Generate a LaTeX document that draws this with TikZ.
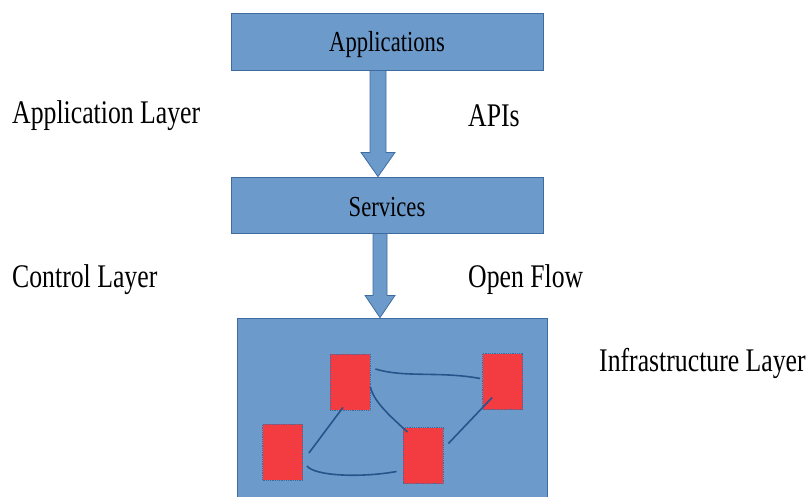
\documentclass[tikz,border=0pt]{standalone}
\usepackage{fontspec}
\usetikzlibrary{calc}
\newfontfamily\labelfont[FakeStretch=0.78]{Liberation Serif}
\definecolor{layerfill}{RGB}{108,155,203}
\definecolor{layeredge}{RGB}{62,108,160}
\definecolor{switchfill}{RGB}{243,60,66}
\definecolor{linkblue}{RGB}{40,84,140}
\tikzset{
  layerbox/.style={draw=layeredge, line width=0.8pt, fill=layerfill, inner sep=0pt},
  switchbox/.style={draw=layeredge, densely dotted, line width=0.8pt, fill=switchfill,
    minimum width=40pt, minimum height=56pt, inner sep=0pt},
  blockarrow/.style={draw=layeredge, line width=0.8pt, fill=layerfill, line join=miter},
  link/.style={draw=linkblue, line width=1.6pt},
  sidelabel/.style={font=\labelfont\fontsize{33}{36}\selectfont, inner sep=0pt},
  boxlabel/.style={font=\labelfont\fontsize{29}{32}\selectfont, inner sep=0pt}
}
\begin{document}
\begin{tikzpicture}[x=1pt,y=-1pt]
\useasboundingbox (0,0) rectangle (809,496);
\clip (0,0) rectangle (809,496);

% layer boxes
\node[layerbox, minimum width=312pt, minimum height=57pt] (app) at (387,41.5) {};
\node[layerbox, minimum width=312pt, minimum height=56pt] (svc) at (387,205) {};
\node[layerbox, minimum width=310pt, minimum height=190pt] (infra) at (392,413) {};

\node[boxlabel] (apptxt) at ($(app.center)+(0,3)$) {Applications};
\node[boxlabel] (svctxt) at ($(svc.center)+(0,2)$) {Services};

% block arrows between the layers
\draw[blockarrow]
  ($(app.south)+(-17,0)$) -- ($(app.south)+(-1,0)$) -- ($(app.south)+(-1,82)$)
  -- ($(app.south)+(8,82)$) -- (svc.north -| 378,0) -- ($(app.south)+(-26,82)$)
  -- ($(app.south)+(-17,82)$) -- cycle;
\draw[blockarrow]
  ($(svc.south)+(-14,0)$) -- ($(svc.south)+(0,0)$) -- ($(svc.south)+(0,62)$)
  -- ($(svc.south)+(8,62)$) -- (infra.north -| 380,0) -- ($(svc.south)+(-22,62)$)
  -- ($(svc.south)+(-14,62)$) -- cycle;

% side labels
\node[sidelabel, anchor=west] (applayer) at (12,116) {Application Layer};
\node[sidelabel, anchor=west] (ctllayer) at (12,280) {Control Layer};
\node[sidelabel, anchor=west] (apis) at (468,116) {APIs};
\node[sidelabel, anchor=west] (oflow) at (468,280) {Open Flow};
\node[sidelabel, anchor=west] (inflayer) at (599,363) {Infrastructure Layer};

% switches
\node[switchbox] (swA) at (350,382) {};
\node[switchbox] (swB) at (502.5,381.5) {};
\node[switchbox] (swC) at (282.5,452) {};
\node[switchbox] (swD) at (423,455.5) {};

% links between switches
\draw[link] ($(swA.east)+(5,-13)$) .. controls (405,378) and (440,371) .. ($(swB.west)+(-2,-3)$);
\draw[link] ($(swA.east)+(0,5)$) .. controls (374,402) and (390,416) .. ($(swD.north west)+(5,5)$);
\draw[link] ($(swC.east)+(6,1)$) -- ($(swA.south)+(-7,-3)$);
\draw[link] ($(swC.east)+(4,14)$) .. controls (315,476) and (360,478) .. ($(swD.west)+(-6,16)$);
\draw[link] ($(swD.east)+(5,-12)$) -- ($(swB.west)+(10,16)$);
\end{tikzpicture}
\end{document}
